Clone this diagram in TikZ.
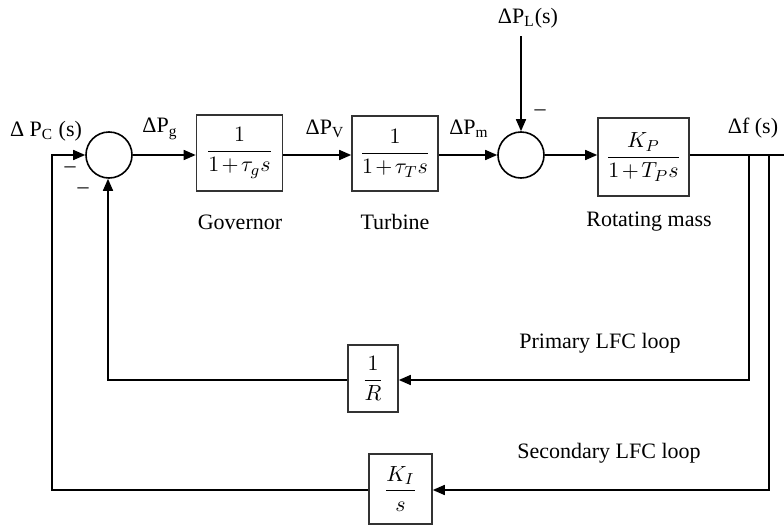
\documentclass[tikz,border=0pt]{standalone}
\usepackage{fontspec}
\setmainfont{Liberation Serif}
\usepackage{amsmath}
\usetikzlibrary{arrows.meta}

\tikzset{
  block/.style={draw, thick, black!80, text=black, inner sep=0pt, minimum width=#1},
  block/.default=43pt,
  sumnode/.style={draw, circle, thick, minimum size=23pt, inner sep=0pt},
  sig/.style={-{Triangle[length=6pt,width=5pt]}, thick},
  wire/.style={thick},
}

\begin{document}
\begin{tikzpicture}[x=0.5pt, y=-0.5pt, font=\fontsize{11}{13}\selectfont]
    \useasboundingbox (0,0) rectangle (784,525);
    \medmuskip=2mu

    % Summing junctions
    \node[sumnode] (sumA) at (109,155) {};
    \node[sumnode] (sumB) at (521,155) {};

    % Forward path blocks
    \node[block, minimum height=38pt] (gov) at (239.5,153) {$\dfrac{1}{1+\tau_g s}$};
    \node[block, minimum height=37.5pt] (turb) at (395,153.5) {$\dfrac{1}{1+\tau_T s}$};
    \node[block=45.5pt, minimum height=39pt] (rot) at (643.5,157) {$\dfrac{K_P}{1+T_P s}$};

    % Feedback blocks
    \node[block=25pt, minimum height=33.5pt] (droop) at (373,378.5) {$\dfrac{1}{R}$};
    \node[block=31.5pt, minimum height=35pt] (integ) at (400.5,489) {$\dfrac{K_I}{s}$};

    % Block labels
    \node (govlbl) at (240,222) {Governor};
    \node (turblbl) at (395,222) {Turbine};
    \node (rotlbl) at (649,222) {Rotating mass};
    \node (prilbl) at (600,343) {Primary LFC loop};
    \node (seclbl) at (609,453) {Secondary LFC loop};

    % Signal labels
    \node (pc) at (46,131) {Δ P\textsubscript{C} (s)};
    \node (pg) at (160,129) {ΔP\textsubscript{g}};
    \node (pv) at (325,129) {ΔP\textsubscript{V}};
    \node (pm) at (469,129) {ΔP\textsubscript{m}};
    \node (pl) at (528,18) {ΔP\textsubscript{L}(s)};
    \node (df) at (753,128) {Δf (s)};

    % Signs
    \node (mA) at (70,170) {--};
    \node (mB) at (83,191) {--};
    \node (mC) at (540,113) {--};

    % Corner and tap points
    \coordinate (plin) at (521,36);
    \coordinate (tapA) at (749,155);
    \coordinate (tapB) at (769,155);
    \coordinate (fend) at (784,155);
    \coordinate (cornA) at (749,380);
    \coordinate (cornB) at (769,490);
    \coordinate (cornC) at (108,380);
    \coordinate (cornD) at (52,490);
    \coordinate (cornE) at (52,155);

    % Forward path
    \draw[sig] (sumA) -- (sumA -| gov.west);
    \draw[sig] (gov.east |- cornE) -- (turb.west |- cornE);
    \draw[sig] (turb.east |- cornE) -- (sumB);
    \draw[sig] (sumB) -- (sumB -| rot.west);
    \draw[sig] (plin) -- (sumB);
    \draw[wire] (rot.east |- fend) -- (fend);

    % Primary loop
    \draw[sig] (tapA) -- (cornA) -- (droop.east |- cornA);
    \draw[sig] (droop.west |- cornC) -- (cornC) -- (sumA.south -| cornC);

    % Secondary loop
    \draw[sig] (tapB) -- (cornB) -- (integ.east |- cornB);
    \draw[sig] (integ.west |- cornD) -- (cornD) -- (cornE) -- (sumA.west);
\end{tikzpicture}
\end{document}
